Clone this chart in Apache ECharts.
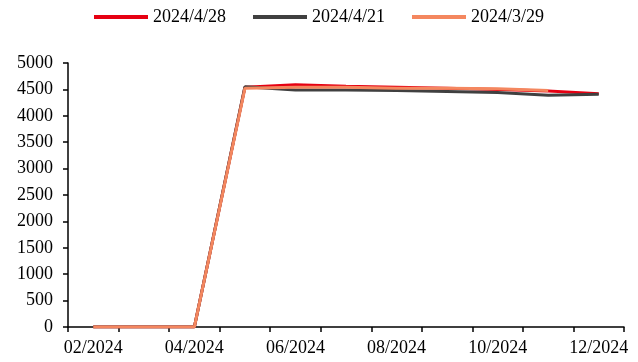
<!DOCTYPE html>
<html>
<head>
<meta charset="utf-8">
<script src="https://cdn.jsdelivr.net/npm/echarts@6/dist/echarts.min.js"></script>
<style>
  html, body { margin: 0; padding: 0; background: #fff; }
  #chart { width: 638px; height: 362px; }
</style>
</head>
<body>
<div id="chart"></div>
<script>
// Monthly categories along the x axis
const months = ['02/2024', '03/2024', '04/2024', '05/2024', '06/2024', '07/2024',
                '08/2024', '09/2024', '10/2024', '11/2024', '12/2024'];

// One curve per release date
const seriesNames = ['2024/4/28', '2024/4/21', '2024/3/29'];
const release0428 = [0, 0, 0, 4540, 4590, 4560, 4540, 4520, 4500, 4470, 4420];
const release0421 = [0, 0, 0, 4550, 4490, 4490, 4480, 4460, 4440, 4390, 4410];
const release0329 = [0, 0, 0, 4520, 4540, 4540, 4520, 4520, 4510, 4480, null];

// Y axis range and step
const yMin = 0, yMax = 5000, yStep = 500;

const colors = ['#e60012', '#404040', '#f4875f'];
const font = 'Liberation Serif, Times New Roman, serif';

const chart = echarts.init(document.getElementById('chart'));

function line(name, data, color, z) {
  return {
    name: name,
    type: 'line',
    data: data,
    showSymbol: false,
    symbol: 'none',
    connectNulls: false,
    z: z,
    lineStyle: { color: color, width: 3 },
    itemStyle: { color: color }
  };
}

chart.setOption({
  animation: false,
  backgroundColor: '#fff',
  textStyle: { fontFamily: font },
  legend: {
    top: 3,
    left: 'center',
    itemWidth: 54,
    itemHeight: 4,
    itemGap: 27,
    icon: 'rect',
    textStyle: { fontFamily: font, fontSize: 18, color: '#000' },
    data: seriesNames
  },
  grid: { left: 68, right: 14, top: 63, bottom: 35, containLabel: false },
  xAxis: {
    type: 'category',
    data: months,
    boundaryGap: true,
    axisLine: { lineStyle: { color: '#000', width: 1.5 } },
    axisTick: { show: true, interval: 0, length: 5, lineStyle: { color: '#000', width: 1.5 } },
    axisLabel: { interval: 1, color: '#000', fontFamily: font, fontSize: 18, margin: 12 },
    splitLine: { show: false }
  },
  yAxis: {
    type: 'value',
    min: yMin,
    max: yMax,
    interval: yStep,
    axisLine: { show: true, lineStyle: { color: '#000', width: 1.5 } },
    axisTick: { show: true, inside: false, length: 5, lineStyle: { color: '#000', width: 1.5 } },
    axisLabel: {
      color: '#000', fontFamily: font, fontSize: 18, margin: 15,
      formatter: function (v) { return String(v); }
    },
    splitLine: { show: false }
  },
  series: [
    line(seriesNames[0], release0428, colors[0], 2),
    line(seriesNames[1], release0421, colors[1], 3),
    line(seriesNames[2], release0329, colors[2], 4)
  ]
});
</script>
</body>
</html>
